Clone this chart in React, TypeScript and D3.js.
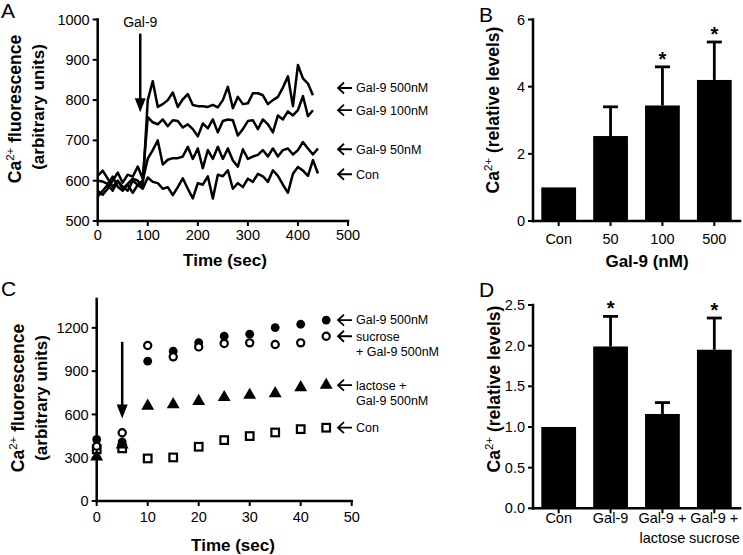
import React from 'react';
import * as d3 from 'd3';

const FONT = "'Liberation Sans', Arial, Helvetica, sans-serif";

// ---------- Panel A data ----------
const timesA = [0, 10, 20, 30, 40, 50, 60, 70, 80, 90, 100, 110, 120, 130, 140, 150, 160, 170, 180, 190, 200, 210, 220, 230, 240, 250, 260, 270, 280, 290, 300, 310, 320, 330, 340, 350, 360, 370, 380, 390, 400, 410, 420, 430, 440];
const gal9_500A = [612, 625, 605, 585, 600, 580, 592, 605, 600, 585, 800, 847, 783, 790, 800, 819, 783, 802, 815, 788, 785, 785, 783, 788, 782, 800, 833, 780, 808, 790, 792, 817, 817, 812, 790, 800, 808, 831, 859, 785, 887, 854, 841, 812];
const gal9_100A = [575, 565, 580, 600, 620, 595, 615, 610, 635, 605, 758, 745, 740, 752, 735, 750, 748, 732, 740, 728, 710, 742, 730, 752, 720, 748, 752, 750, 712, 728, 748, 750, 728, 752, 740, 720, 762, 752, 772, 762, 775, 810, 760, 775];
const gal9_50A = [560, 575, 590, 575, 600, 585, 575, 600, 590, 600, 655, 676, 700, 640, 652, 656, 656, 660, 684, 654, 680, 631, 676, 654, 684, 654, 680, 650, 635, 678, 654, 660, 664, 676, 660, 680, 660, 676, 680, 665, 676, 696, 680, 665, 680];
const conA = [600, 598, 592, 610, 585, 575, 590, 570, 590, 580, 608, 597, 594, 580, 584, 564, 584, 606, 580, 556, 594, 590, 611, 556, 615, 611, 626, 580, 594, 584, 605, 597, 617, 611, 597, 626, 612, 590, 570, 617, 634, 625, 612, 651, 618];
const xTicksA = [0, 100, 200, 300, 400, 500];
const yTicksA = [500, 600, 700, 800, 900, 1000];
const legendLabelsA = ['Gal-9 500nM', 'Gal-9 100nM', 'Gal-9 50nM', 'Con'];
const legendValuesA = [830, 775, 678, 616];

// ---------- Panel B data ----------
const catsB = ['Con', '50', '100', '500'];
const valuesB = [1.0, 2.53, 3.44, 4.2];
const errorsB = [0, 0.87, 1.15, 1.13];
const sigB = [false, false, true, true];
const yTicksB = [0, 2, 4, 6];

// ---------- Panel C data ----------
const timesC = [0, 5, 10, 15, 20, 25, 30, 35, 40, 45];
const gal9_500C = [427, 410, 969, 1038, 1098, 1142, 1156, 1202, 1225, 1254];
const sucroseC = [380, 473, 1078, 999, 1068, 1092, 1096, 1085, 1096, 1142];
const lactoseC = [307, 390, 658, 669, 692, 718, 734, 745, 787, 803];
const conC = [358, 365, 295, 302, 376, 422, 450, 475, 498, 508];
const xTicksC = [0, 10, 20, 30, 40, 50];
const yTicksC = [0, 300, 600, 900, 1200];

// ---------- Panel D data ----------
const catsD = ['Con', 'Gal-9', 'Gal-9 +\nlactose', 'Gal-9 +\nsucrose'];
const valuesD = [1.0, 1.99, 1.16, 1.95];
const errorsD = [0, 0.37, 0.14, 0.39];
const sigD = [false, true, false, true];
const yTicksD = [0, 0.5, 1.0, 1.5, 2.0, 2.5];

const AXW = 2.5;
const TICK_FS = 14.5;

function YAxis({ scale, ticks, x, fmt, size = TICK_FS }: any) {
  const [r0, r1] = scale.range();
  return (
    <g>
      <line x1={x} x2={x} y1={r0} y2={r1} stroke="#000" strokeWidth={AXW} strokeLinecap="square" />
      {ticks.map((t: number) => (
        <g key={t}>
          <line x1={x - 5} x2={x} y1={scale(t)} y2={scale(t)} stroke="#000" strokeWidth={2} />
          <text x={x - 8} y={scale(t)} dy="0.35em" textAnchor="end" fontSize={size} fontFamily={FONT}>
            {fmt ? fmt(t) : t}
          </text>
        </g>
      ))}
    </g>
  );
}

function XAxisLinear({ scale, ticks, y, labelY, size = TICK_FS }: any) {
  const [r0, r1] = scale.range();
  return (
    <g>
      <line x1={r0} x2={r1} y1={y} y2={y} stroke="#000" strokeWidth={AXW} strokeLinecap="square" />
      {ticks.map((t: number) => (
        <g key={t}>
          <line x1={scale(t)} x2={scale(t)} y1={y} y2={y + 5} stroke="#000" strokeWidth={2} />
          <text x={scale(t)} y={labelY} textAnchor="middle" fontSize={size} fontFamily={FONT}>{t}</text>
        </g>
      ))}
    </g>
  );
}

function LegendArrow({ x, y }: any) {
  return (
    <path d={`M${x + 14},${y} H${x} M${x + 6},${y - 5.5} L${x},${y} L${x + 6},${y + 5.5}`}
      fill="none" stroke="#000" strokeWidth={1.8} />
  );
}

function DownArrow({ x, y0, y1 }: any) {
  return (
    <g>
      <line x1={x} x2={x} y1={y0} y2={y1 - 12} stroke="#000" strokeWidth={2.5} />
      <path d={`M${x - 5.5},${y1 - 14} L${x + 5.5},${y1 - 14} L${x},${y1} Z`} fill="#000" />
    </g>
  );
}

function BarPanel({ cats, values, errors, sig, yScale, yTicks, fmt, xLabelY }: any) {
  const x = d3.scaleBand().domain(cats).range([533, 740]).paddingInner(0.33).paddingOuter(0.16);
  const y0 = yScale(0);
  return (
    <g>
      {cats.map((c: string, i: number) => {
        const bx = x(c)!;
        const cx = bx + x.bandwidth() / 2;
        const top = yScale(values[i]);
        const et = yScale(values[i] + errors[i]);
        return (
          <g key={c}>
            <rect x={bx} y={top} width={x.bandwidth()} height={y0 - top} fill="#000" />
            {errors[i] > 0 && (
              <g stroke="#000" strokeWidth={2.8}>
                <line x1={cx} x2={cx} y1={top} y2={et} />
                <line x1={cx - 7.5} x2={cx + 7.5} y1={et} y2={et} />
              </g>
            )}
            {sig[i] && (
              <text x={cx} y={et - 1} textAnchor="middle" fontSize={20} fontWeight="bold" fontFamily={FONT}>*</text>
            )}
            <line x1={cx} x2={cx} y1={y0} y2={y0 + 5} stroke="#000" strokeWidth={2} />
            {c.split('\n').map((ln, k) => (
              <text key={k} x={cx} y={xLabelY + k * 20} textAnchor="middle" fontSize={TICK_FS} fontFamily={FONT}>{ln}</text>
            ))}
          </g>
        );
      })}
      <line x1={533} x2={740} y1={y0} y2={y0} stroke="#000" strokeWidth={AXW} strokeLinecap="square" />
      <YAxis scale={yScale} ticks={yTicks} x={533} fmt={fmt} />
    </g>
  );
}

function CaLabel({ x, y, second }: any) {
  return (
    <text transform={`translate(${x},${y}) rotate(-90)`} textAnchor="middle" fontSize={17.5} fontWeight="bold" fontFamily={FONT}>
      Ca<tspan dy={-7} fontSize={11.5} fontWeight="normal">2+</tspan><tspan dy={7}>{second}</tspan>
    </text>
  );
}

export default function App() {
  // Panel A
  const xA = d3.scaleLinear().domain([0, 500]).range([97.7, 348]);
  const yA = d3.scaleLinear().domain([500, 1000]).range([221, 19.5]);
  const lineA = (vals: number[]) =>
    d3.line<number>().x((_, i) => xA(timesA[i])).y((d) => yA(d))(vals) || '';

  // Panel B
  const yB = d3.scaleLinear().domain([0, 6]).range([221, 19.5]);

  // Panel C
  const xC = d3.scaleLinear().domain([0, 50]).range([96.7, 351.7]);
  const yC = d3.scaleLinear().domain([0, 1400]).range([501, 299]);

  // Panel D
  const yD = d3.scaleLinear().domain([0, 2.5]).range([508.3, 305]);

  const triPath = d3.symbol().type(d3.symbolTriangle).size(72)() || '';

  return (
    <svg width={743} height={555} style={{ position: 'absolute', left: 0, top: 0, background: '#fff' }}
      fontFamily={FONT}>
      <rect x={0} y={0} width={743} height={555} fill="#fff" />

      {/* ===== Panel A ===== */}
      <text x={1} y={18} fontSize={21} fontFamily={FONT}>A</text>
      {[conA, gal9_50A, gal9_100A, gal9_500A].map((s, i) => (
        <path key={i} d={lineA(s)} fill="none" stroke="#000" strokeWidth={2.5} strokeLinejoin="round" />
      ))}
      <YAxis scale={yA} ticks={yTicksA} x={97.7} />
      <XAxisLinear scale={xA} ticks={xTicksA} y={221} labelY={240} />
      <text x={xA(85)} y={27} textAnchor="middle" fontSize={14} fontFamily={FONT}>Gal-9</text>
      <DownArrow x={xA(85)} y0={yA(965)} y1={yA(770)} />
      {legendLabelsA.map((l, i) => (
        <g key={l}>
          <LegendArrow x={338} y={yA(legendValuesA[i])} />
          <text x={356} y={yA(legendValuesA[i])} dy="0.35em" fontSize={12.5} fontFamily={FONT}>{l}</text>
        </g>
      ))}
      <text x={225} y={266} textAnchor="middle" fontSize={17} fontWeight="bold" fontFamily={FONT}>Time (sec)</text>
      <CaLabel x={21} y={109} second=" fluorescence" />
      <text transform={`translate(44,107) rotate(-90)`} textAnchor="middle" fontSize={17} fontWeight="bold" fontFamily={FONT}>(arbitrary units)</text>

      {/* ===== Panel B ===== */}
      <text x={479} y={22} fontSize={21} fontFamily={FONT}>B</text>
      <BarPanel cats={catsB} values={valuesB} errors={errorsB} sig={sigB} yScale={yB} yTicks={yTicksB} xLabelY={244} />
      <CaLabel x={499} y={110} second=" (relative levels)" />
      <text x={647} y={267} textAnchor="middle" fontSize={17} fontWeight="bold" fontFamily={FONT}>Gal-9 (nM)</text>

      {/* ===== Panel C ===== */}
      <text x={1} y={296} fontSize={21} fontFamily={FONT}>C</text>
      <YAxis scale={yC} ticks={yTicksC} x={96.7} />
      <XAxisLinear scale={xC} ticks={xTicksC} y={501} labelY={522} />
      <DownArrow x={xC(5)} y0={yC(1103)} y1={yC(572)} />
      {conC.map((v, i) => (
        <rect key={'s' + i} x={xC(timesC[i]) - 3.8} y={yC(v) - 3.8} width={7.6} height={7.6} fill="#fff" stroke="#000" strokeWidth={2.2} />
      ))}
      {lactoseC.map((v, i) => (
        <path key={'t' + i} d={triPath} transform={`translate(${xC(timesC[i])},${yC(v)})`} fill="#000" />
      ))}
      {gal9_500C.map((v, i) => (
        <circle key={'f' + i} cx={xC(timesC[i])} cy={yC(v)} r={4.4} fill="#000" />
      ))}
      {sucroseC.map((v, i) => (
        <circle key={'o' + i} cx={xC(timesC[i])} cy={yC(v)} r={3.6} fill="#fff" stroke="#000" strokeWidth={2.2} />
      ))}
      <LegendArrow x={338} y={yC(1254)} />
      <text x={356} y={yC(1254)} dy="0.35em" fontSize={12.5}>Gal-9 500nM</text>
      <LegendArrow x={338} y={yC(1142)} />
      <text x={356} y={yC(1142)} dy="0.4em" fontSize={12.5}>sucrose</text>
      <text x={356} y={yC(1142) + 15} dy="0.4em" fontSize={12.5}>+ Gal-9 500nM</text>
      <LegendArrow x={338} y={yC(803)} />
      <text x={356} y={yC(803)} dy="0.4em" fontSize={12.5}>lactose +</text>
      <text x={356} y={yC(803) + 15} dy="0.4em" fontSize={12.5}>Gal-9 500nM</text>
      <LegendArrow x={338} y={yC(508)} />
      <text x={356} y={yC(508)} dy="0.35em" fontSize={12.5}>Con</text>
      <text x={233} y={551} textAnchor="middle" fontSize={17} fontWeight="bold" fontFamily={FONT}>Time (sec)</text>
      <CaLabel x={24} y={398} second=" fluorescence" />
      <text transform={`translate(47,398) rotate(-90)`} textAnchor="middle" fontSize={17} fontWeight="bold" fontFamily={FONT}>(arbitrary units)</text>

      {/* ===== Panel D ===== */}
      <text x={479} y={297} fontSize={21} fontFamily={FONT}>D</text>
      <BarPanel cats={catsD} values={valuesD} errors={errorsD} sig={sigD} yScale={yD} yTicks={yTicksD}
        fmt={(t: number) => t.toFixed(1)} xLabelY={523} />
      <CaLabel x={500} y={389} second=" (relative levels)" />
    </svg>
  );
}
